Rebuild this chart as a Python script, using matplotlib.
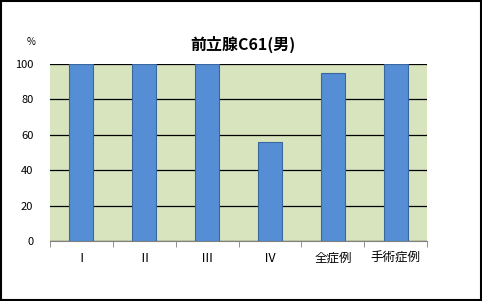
import matplotlib
matplotlib.use("Agg")
import matplotlib.pyplot as plt
import numpy as np

plt.rcParams['font.family'] = ['Noto Sans CJK JP', 'DejaVu Sans']

# data
categories = ["Ⅰ", "Ⅱ", "Ⅲ", "Ⅳ", "全症例", "手術症例"]
values = [100, 100, 100, 56, 95, 100]
title = "前立腺C61(男)"


def main():
    fig = plt.figure(figsize=(4.82, 3.01), dpi=100)
    fig.patch.set_facecolor("white")
    # outer frame
    fig.add_artist(plt.Rectangle((0.002, 0.003), 0.995, 0.994, transform=fig.transFigure,
                                 fill=False, edgecolor="black", linewidth=1.5))

    ax = fig.add_axes([0.1037, 0.1993, 0.7823, 0.5877])
    ax.set_facecolor("#D7E4BD")

    x = np.arange(len(categories))
    ax.bar(x, values, width=0.38, color="#558ED5", edgecolor="#3A679E",
           linewidth=0.8, zorder=3)

    ax.set_xlim(-0.5, len(categories) - 0.5)
    ax.set_ylim(0, 100)
    ax.set_yticks(range(0, 101, 20))
    ax.yaxis.grid(True, color="black", linewidth=0.9, zorder=1)
    ax.set_axisbelow(True)

    for side in ["left", "right", "top"]:
        ax.spines[side].set_visible(False)
    ax.spines["bottom"].set_color("#808080")

    ax.set_xticks(x)
    ax.set_xticklabels(categories, fontsize=9)
    ax.set_xticks(np.arange(-0.5, len(categories)), minor=True)
    ax.tick_params(axis="x", which="major", length=0, pad=8)
    ax.tick_params(axis="x", which="minor", length=4, color="#808080")
    ax.tick_params(axis="y", length=0, labelsize=8, pad=12)

    fig.text(0.504, 0.853, title, ha="center", va="center", fontsize=11.5,
             fontweight="bold")
    fig.text(0.064, 0.86, "%", ha="center", va="center", fontsize=7)

    fig.savefig("out.png", dpi=100)


if __name__ == "__main__":
    main()
